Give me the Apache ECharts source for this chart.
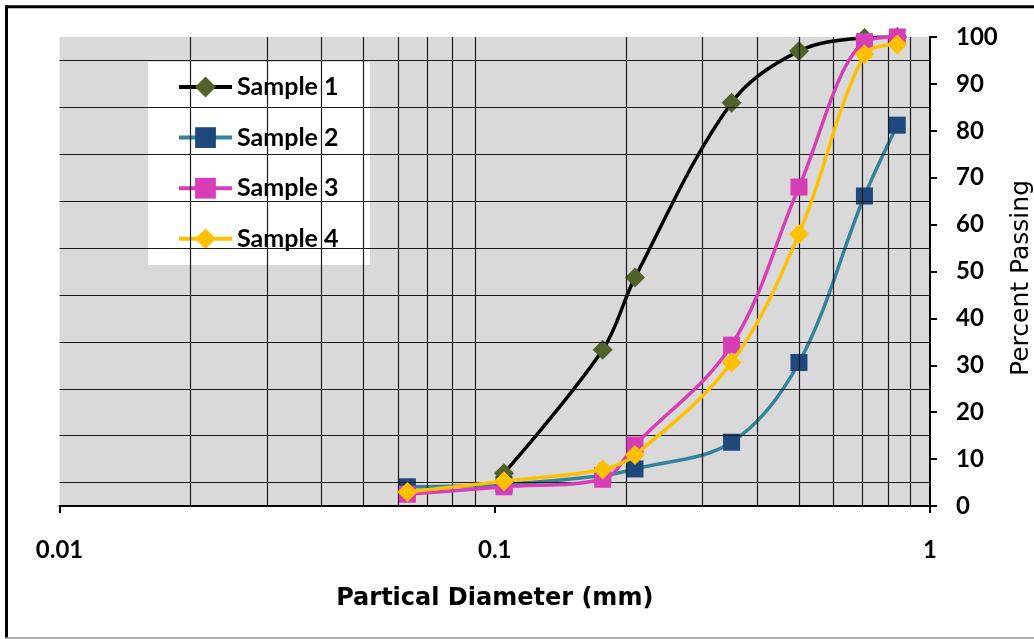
<!DOCTYPE html>
<html>
<head>
<meta charset="utf-8">
<script src="https://cdn.jsdelivr.net/npm/echarts@6/dist/echarts.min.js"></script>
<style>
html,body{margin:0;padding:0;background:#fff;}
#chart{width:1034px;height:639px;}
</style>
</head>
<body>
<div id="chart"></div>
<script>
// Sieve sizes (mm)
const diameters = [0.063, 0.105, 0.177, 0.21, 0.35, 0.5, 0.707, 0.841];
const seriesNames = ['Sample 1', 'Sample 2', 'Sample 3', 'Sample 4'];
const sample1 = [null, 7.0, 33.3, 48.7, 86.0, 97.0, 99.8, 100];
const sample2 = [4.1, 4.6, 6.5, 7.9, 13.6, 30.6, 66.1, 81.2];
const sample3 = [2.5, 4.1, 5.7, 13.0, 34.3, 68.0, 99.0, 100];
const sample4 = [3.0, 5.3, 7.8, 10.9, 30.6, 58.0, 96.3, 98.4];
const xGridValues = [0.02,0.03,0.04,0.05,0.06,0.07,0.08,0.09,0.2,0.3,0.4,0.5,0.6,0.7,0.8,0.9];
const yGridValues = [5,15,25,35,45,55,65,75,85,95];
const xTickLabels = {0.01:'0.01', 0.1:'0.1', 1:'1'};

function pairs(vals){
  const out = [];
  vals.forEach((v,i)=>{ if(v!==null) out.push([diameters[i], v]); });
  return out;
}

const chart = echarts.init(document.getElementById('chart'), null, {renderer:'canvas'});
const tickFont = {fontFamily:'Lato', fontWeight:'bold', fontSize:24, color:'#000'};

const styles = [
  {line:'#000000', marker:'#4F6228', symbol:'diamond', size:[20,20]},
  {line:'#31849B', marker:'#1F497D', symbol:'rect', size:[17,17]},
  {line:'#D83DB8', marker:'#D83DB8', symbol:'rect', size:[17,17]},
  {line:'#FFC000', marker:'#FFC000', symbol:'diamond', size:[20,20]}
];
const allData = [sample1, sample2, sample3, sample4];

const series = [{
  name:'grid', type:'line', data:[], silent:true, z:1,
  markLine:{
    silent:true, symbol:['none','none'], animation:false,
    label:{show:false},
    lineStyle:{color:'#1a1a1a', width:1.2, type:'solid'},
    emphasis:{disabled:true},
    data:[...xGridValues.map(v=>({xAxis:v})), ...yGridValues.map(v=>({yAxis:v}))]
  }
}];
allData.forEach((d,i)=>{
  const s = styles[i];
  series.push({
    name: seriesNames[i], type:'line', data: pairs(d), smooth:0.35,
    symbol: s.symbol, symbolSize: s.size, showAllSymbol:true,
    lineStyle:{color:s.line, width:3.5},
    itemStyle:{color:s.marker, borderWidth:0},
    color: s.line,
    z: 3 + i,
    animation:false
  });
});

chart.setOption({
  animation:false,
  grid:{left:59.5, right:104, top:37, bottom:133, show:true, backgroundColor:'#D9D9D9', borderWidth:0,
        containLabel:false, outerBoundsMode:'none'},
  xAxis:{
    type:'log', logBase:10, min:0.01, max:1,
    name:'Partical Diameter (mm)', nameLocation:'middle', nameGap:81,
    nameTextStyle:{fontFamily:'DejaVu Sans', fontWeight:'bold', fontSize:24, color:'#000'},
    axisLine:{show:true, lineStyle:{color:'#000', width:2}},
    axisTick:{show:true, length:7, lineStyle:{color:'#000', width:2}},
    axisLabel:Object.assign({margin:32, formatter:v=>xTickLabels[v] !== undefined ? xTickLabels[v] : String(v)}, tickFont),
    splitLine:{show:false}, minorTick:{show:false}
  },
  yAxis:{
    type:'value', position:'right', min:0, max:100, interval:10,
    name:'Percent Passing', nameLocation:'middle', nameGap:60, nameRotate:90,
    nameTextStyle:{fontFamily:'DejaVu Sans', fontSize:25, color:'#000', padding:[0,13,0,0]},
    axisLine:{show:true, lineStyle:{color:'#000', width:2}},
    axisTick:{show:true, length:7, lineStyle:{color:'#000', width:2}},
    axisLabel:Object.assign({margin:26}, tickFont),
    splitLine:{show:false}
  },
  legend:{
    data: seriesNames, orient:'vertical', left:177, top:73, padding:0,
    itemWidth:53, itemHeight:26, itemGap:22.6,
    lineStyle:{width:4},
    textStyle:{fontFamily:'Lato', fontWeight:'bold', fontSize:25, lineHeight:28, color:'#000'},
    backgroundColor:'transparent', selectedMode:false
  },
  graphic:{elements:[
    {type:'rect', shape:{x:148, y:62, width:222, height:203}, style:{fill:'#fff'}, z:3, silent:true},
    {type:'line', shape:{x1:6.5, y1:5.5, x2:6.5, y2:638}, style:{stroke:'#000', lineWidth:3}, z:10, silent:true},
    {type:'line', shape:{x1:5, y1:6.8, x2:1040, y2:6.8}, style:{stroke:'#000', lineWidth:3}, z:10, silent:true},
    {type:'line', shape:{x1:5, y1:638, x2:1040, y2:638}, style:{stroke:'#999', lineWidth:1.5}, z:10, silent:true}
  ]},
  series: series
});
</script>
</body>
</html>
